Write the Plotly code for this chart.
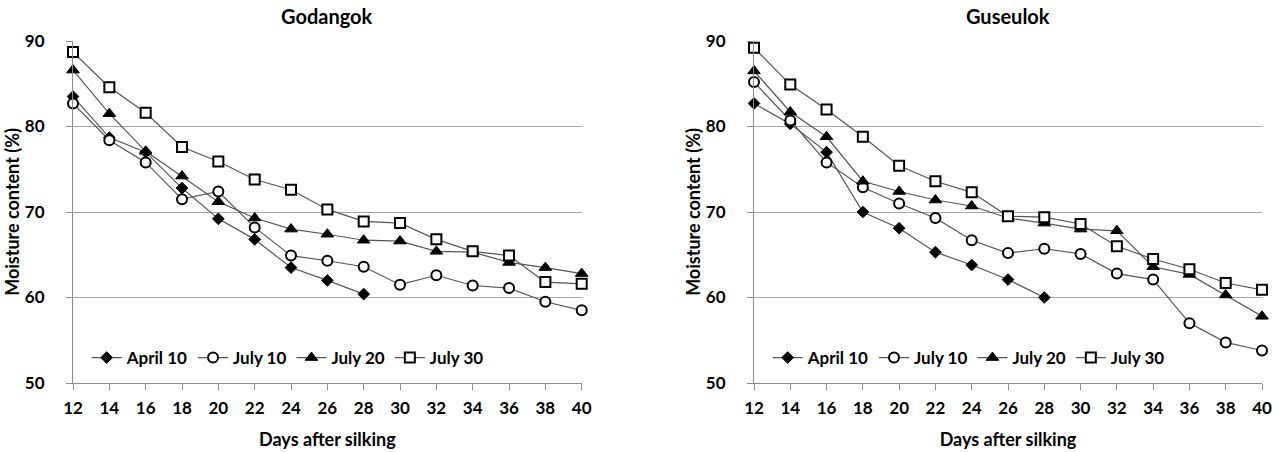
import plotly.graph_objects as go

days = [12, 14, 16, 18, 20, 22, 24, 26, 28, 30, 32, 34, 36, 38, 40]
days_april = [12, 14, 16, 18, 20, 22, 24, 26, 28]

# Godangok
april10_g = [83.5, 78.7, 77.0, 72.8, 69.2, 66.8, 63.5, 62.0, 60.4]
july10_g = [82.7, 78.4, 75.8, 71.5, 72.4, 68.2, 64.9, 64.3, 63.6, 61.5, 62.6, 61.4, 61.1, 59.5, 58.5]
july20_g = [86.6, 81.5, 77.1, 74.2, 71.2, 69.3, 68.0, 67.4, 66.7, 66.6, 65.4, 65.3, 64.1, 63.5, 62.8]
july30_g = [88.7, 84.6, 81.6, 77.6, 75.9, 73.8, 72.6, 70.3, 68.9, 68.7, 66.8, 65.4, 64.9, 61.8, 61.6]

# Guseulok
april10_u = [82.7, 80.3, 77.0, 70.0, 68.1, 65.3, 63.8, 62.1, 60.0]
july10_u = [85.2, 80.7, 75.8, 72.9, 71.0, 69.3, 66.7, 65.2, 65.7, 65.1, 62.8, 62.1, 57.0, 54.75, 53.8]
july20_u = [86.5, 81.7, 78.8, 73.6, 72.4, 71.4, 70.7, 69.3, 68.7, 68.0, 67.8, 63.6, 62.7, 60.3, 57.8]
july30_u = [89.2, 84.9, 82.0, 78.8, 75.4, 73.6, 72.3, 69.5, 69.4, 68.6, 66.0, 64.5, 63.3, 61.7, 60.9]

series_names = ["April 10", "July 10", "July 20", "July 30"]
panel_titles = ["Godangok", "Guseulok"]
x_ticks = [12, 14, 16, 18, 20, 22, 24, 26, 28, 30, 32, 34, 36, 38, 40]
y_ticks = [50, 60, 70, 80, 90]

FONT = "Lato"
LINE_COLOR = "#555555"
GRID = "#a6a6a6"
AXIS = "#8c8c8c"

styles = [
    dict(symbol="diamond", size=9, color="black", line=dict(color="black", width=1)),
    dict(symbol="circle", size=10, color="white", line=dict(color="black", width=2)),
    dict(symbol="triangle-up", size=11, color="black", line=dict(color="black", width=1)),
    dict(symbol="square", size=10, color="white", line=dict(color="black", width=2)),
]

fig = go.Figure()

panels = [
    ("x", "y", "legend", [april10_g, july10_g, july20_g, july30_g]),
    ("x2", "y2", "legend2", [april10_u, july10_u, july20_u, july30_u]),
]

for xa, ya, leg, data in panels:
    for i, (name, vals) in enumerate(zip(series_names, data)):
        xs = days_april if i == 0 else days
        fig.add_trace(go.Scatter(
            x=xs, y=vals, name=name, mode="lines+markers",
            xaxis=xa, yaxis=ya, legend=leg,
            line=dict(color=LINE_COLOR, width=1.2),
            marker=styles[i], cliponaxis=False,
        ))

axis_common_x = dict(
    range=[12, 40], tickmode="array", tickvals=x_ticks,
    showgrid=False, zeroline=False, showline=True, linecolor=AXIS, linewidth=1,
    ticks="outside", ticklen=6, tickcolor=AXIS, ticklabelstandoff=4,
    tickfont=dict(family=FONT, size=17, color="black", weight="bold"),
    title=dict(text="Days after silking", font=dict(family=FONT, size=18, color="black", weight="bold"), standoff=15),
)
axis_common_y = dict(
    range=[50, 90], tickmode="array", tickvals=y_ticks,
    showgrid=True, gridcolor=GRID, gridwidth=1, zeroline=False,
    showline=True, linecolor=AXIS, linewidth=1,
    ticks="outside", ticklen=6, tickcolor=AXIS, ticklabelstandoff=18,
    tickfont=dict(family=FONT, size=17, color="black", weight="bold"),
    title=dict(text="Moisture content (%)", font=dict(family=FONT, size=18, color="black", weight="bold"), standoff=0),
)

W, H = 1284, 452
ml, mr, mt, mb = 73, 22, 41, 69
pw = W - ml - mr
left_dom = [0, (581.7 - ml) / pw]
right_dom = [(754 - ml) / pw, 1]
ph = H - mt - mb
leg_y = (ph - (358 - mt)) / ph

fig.update_layout(
    width=W, height=H,
    margin=dict(l=ml, r=mr, t=mt, b=mb, autoexpand=False),
    paper_bgcolor="white", plot_bgcolor="white",
    font=dict(family=FONT, color="black", weight="bold"),
    xaxis=dict(domain=left_dom, anchor="y", **axis_common_x),
    yaxis=dict(domain=[0, 1], anchor="x", **axis_common_y),
    xaxis2=dict(domain=right_dom, anchor="y2", **axis_common_x),
    yaxis2=dict(domain=[0, 1], anchor="x2", **axis_common_y),
    legend=dict(orientation="h", x=(86.7 - ml) / pw, xanchor="left", y=leg_y, yanchor="middle",
                bgcolor="rgba(0,0,0,0)", font=dict(family=FONT, size=17, color="black", weight="bold"),
                itemwidth=30),
    legend2=dict(orientation="h", x=(767.7 - ml) / pw, xanchor="left", y=leg_y, yanchor="middle",
                 bgcolor="rgba(0,0,0,0)", font=dict(family=FONT, size=17, color="black", weight="bold"),
                 itemwidth=30),
    showlegend=True,
)

for dom, title in zip([left_dom, right_dom], panel_titles):
    fig.add_annotation(
        text=title, xref="paper", yref="paper", x=(dom[0] + dom[1]) / 2, y=1,
        xanchor="center", yanchor="middle", yshift=25, showarrow=False, borderpad=0,
        font=dict(family=FONT, size=20, color="black", weight="bold"),
    )

# Remove the default 8px body margin so the figure fills the 1284x452 window exactly.
fig.write_html("out.html", config={"displayModeBar": False},
               post_script="document.body.style.margin='0';")
